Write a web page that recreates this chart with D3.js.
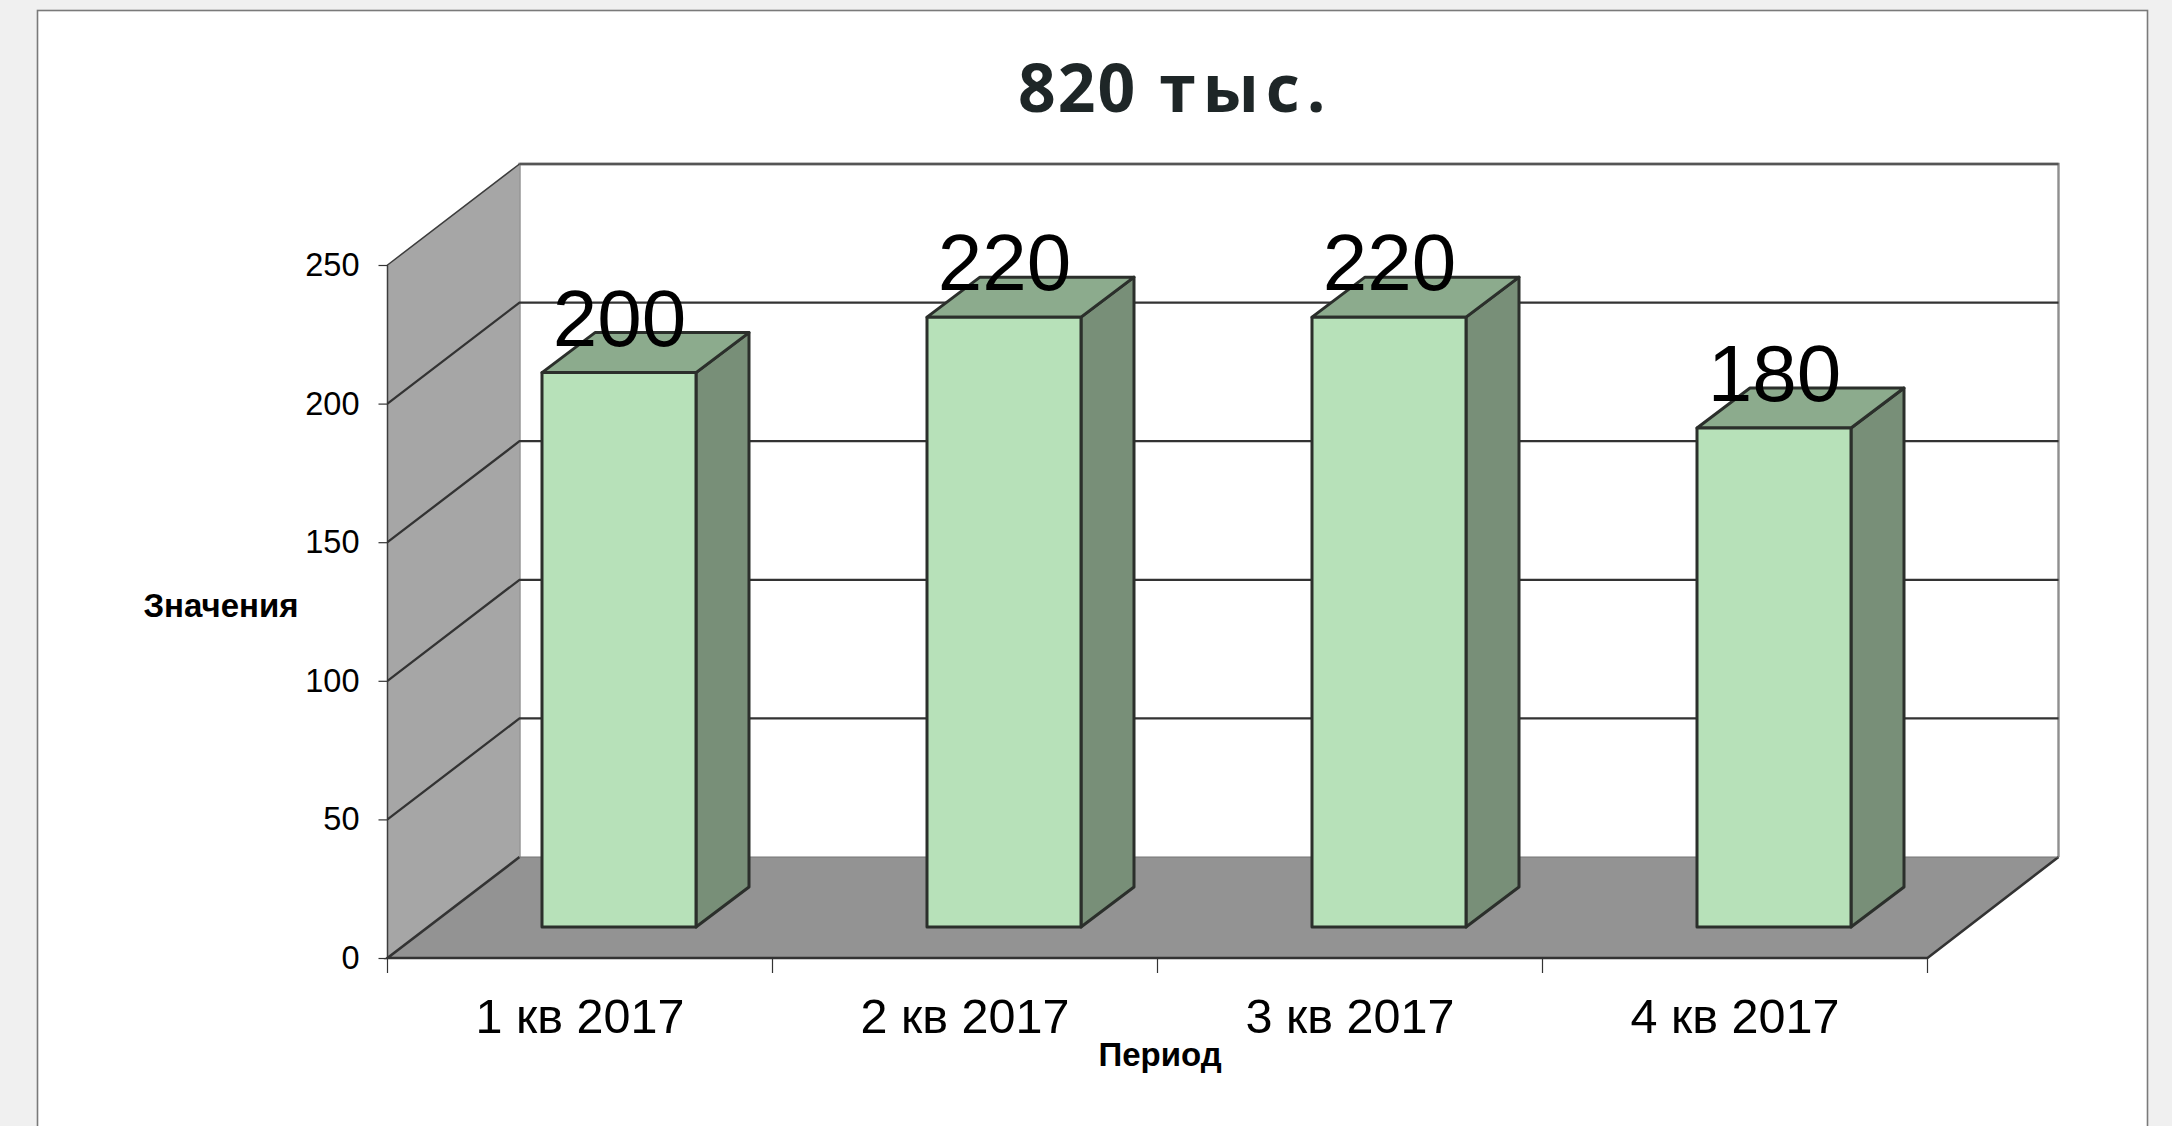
<!DOCTYPE html>
<html><head><meta charset="utf-8">
<script src="https://cdn.jsdelivr.net/npm/d3@7"></script>
<style>html,body{margin:0;padding:0;background:#f0f0f0;overflow:hidden}svg{display:block}</style>
</head><body><svg id="c" width="2172" height="1126"></svg>
<script>
const categories = ["1 кв 2017","2 кв 2017","3 кв 2017","4 кв 2017"];
const values = [200,220,220,180];
const yTicks = [0,50,100,150,200,250];
const titleNumber = "820";
const titleUnit = "тыс.";
const yTitle = "Значения";
const xTitle = "Период";

const svg = d3.select("#c");
const FF = "'Liberation Sans',Arial,sans-serif";
const x = d3.scaleBand().domain(categories).range([387.5,1927.5]);
const y = d3.scaleLinear().domain([0,250]).range([958,265]);
const depth = {dx:132, dy:101};
const bar = {off:155, w:154, dx:53, dy:40, lift:31};
const line = d3.line();
const C = {edge:"#2b2f2b", wall:"#a6a6a6", floor:"#939393", front:"#b7e1b9", top:"#8cab8d", side:"#788f78"};

// panel
svg.append("rect").attr("x",37.5).attr("y",10.5).attr("width",2110).attr("height",1130)
  .attr("fill","#fff").attr("stroke","#7a7a7a").attr("stroke-width",1.6);

const x0=x.range()[0], x1=x.range()[1], y0=y(0), yT=y(250);
// back wall outline
svg.append("path").attr("d",line([[x0+depth.dx,y0-depth.dy],[x0+depth.dx,yT-depth.dy],[x1+depth.dx-1,yT-depth.dy],[x1+depth.dx-1,y0-depth.dy]]))
  .attr("fill","none").attr("stroke","#8f8f8f").attr("stroke-width",2.4);
// left wall
svg.append("path").attr("d",line([[x0,y0],[x0,yT],[x0+depth.dx,yT-depth.dy],[x0+depth.dx,y0-depth.dy]])+"Z").attr("fill",C.wall);
svg.append("path").attr("d",line([[x0,y0],[x0,yT],[x0+depth.dx,yT-depth.dy]])).attr("fill","none").attr("stroke","#3d3d3d").attr("stroke-width",1.5);
// floor
svg.append("path").attr("d",line([[x0,y0],[x0+depth.dx,y0-depth.dy],[x1+depth.dx-1,y0-depth.dy],[x1,y0]])+"Z").attr("fill",C.floor);
svg.append("path").attr("d",line([[x0+depth.dx,y0-depth.dy],[x0,y0],[x1,y0],[x1+depth.dx-1,y0-depth.dy]])).attr("fill","none").attr("stroke","#333").attr("stroke-width",2.6);
svg.append("path").attr("d",line([[x0+depth.dx,y0-depth.dy],[x1+depth.dx-1,y0-depth.dy]])).attr("stroke","#777").attr("stroke-width",1.2);

// gridlines
yTicks.slice(1).forEach(v=>{
  const top = v===250;
  if(!top) svg.append("path").attr("d",line([[x0,y(v)],[x0+depth.dx,y(v)-depth.dy],[x1+depth.dx-1,y(v)-depth.dy]]))
    .attr("fill","none").attr("stroke","#333").attr("stroke-width",2.3);
  else svg.append("path").attr("d",line([[x0+depth.dx,y(v)-depth.dy],[x1+depth.dx-1,y(v)-depth.dy]]))
    .attr("fill","none").attr("stroke","#555").attr("stroke-width",2.6);
});

// y axis
const ay = svg.append("g").attr("transform",`translate(${x0},0)`)
  .call(d3.axisLeft(y).tickValues(yTicks).tickSize(9).tickPadding(19).tickSizeOuter(0));
ay.select(".domain").remove();
ay.selectAll("line").attr("stroke","#333").attr("stroke-width",1.2);
ay.selectAll("text").attr("font-family",FF).attr("font-size",32.5).attr("fill","#000");

// x axis labels and ticks at the band edges
const ax = svg.append("g").attr("transform",`translate(0,${y0})`)
  .call(d3.axisBottom(x).tickSize(0).tickPadding(0));
ax.select(".domain").remove();
ax.selectAll("text").attr("font-family",FF).attr("font-size",48.5).attr("fill","#000").attr("dy",null).attr("y",74.5);
svg.append("g").selectAll("line").data([...categories.map(c=>x(c)),x1]).join("line")
  .attr("x1",d=>d).attr("x2",d=>d).attr("y1",y0).attr("y2",y0+15)
  .attr("stroke","#333").attr("stroke-width",1.2);

// bars
const g = svg.append("g").selectAll("g").data(categories.map((c,i)=>({c,v:values[i]}))).join("g");
g.each(function(d){
  const s=d3.select(this), l=x(d.c)+bar.off-0.5, r=l+bar.w, b=y0-bar.lift, t=y(d.v)-bar.lift;
  const st=p=>p.attr("stroke",C.edge).attr("stroke-width",3).attr("stroke-linejoin","round");
  s.append("path").attr("d",line([[r,t],[r+bar.dx,t-bar.dy],[r+bar.dx,b-bar.dy],[r,b]])+"Z").attr("fill",C.side).call(st);
  s.append("path").attr("d",line([[l,t],[l+bar.dx,t-bar.dy],[r+bar.dx,t-bar.dy],[r,t]])+"Z").attr("fill",C.top).call(st);
  s.append("rect").attr("x",l).attr("y",t).attr("width",bar.w).attr("height",b-t).attr("fill",C.front).call(st);
});
// value labels
svg.append("g").selectAll("text").data(categories.map((c,i)=>({c,v:values[i]}))).join("text")
  .attr("x",d=>x(d.c)+bar.off+bar.w/2).attr("y",d=>y(d.v)-bar.lift-27)
  .attr("text-anchor","middle").attr("font-family",FF).attr("font-size",80).attr("fill","#000").text(d=>d.v);

// titles
const tt = svg.append("text").attr("x",1018).attr("y",112)
  .attr("font-family","'Open Sans',sans-serif").attr("font-weight",700).attr("font-size",66)
  .attr("fill","#1e2627");
tt.append("tspan").attr("letter-spacing",2).text(titleNumber);
tt.append("tspan").attr("dx",22).attr("letter-spacing",7).text(titleUnit);
svg.append("text").attr("x",221).attr("y",617).attr("text-anchor","middle").attr("font-family",FF)
  .attr("font-weight",700).attr("font-size",33).attr("fill","#000").text(yTitle);
svg.append("text").attr("x",1160).attr("y",1066).attr("text-anchor","middle").attr("font-family",FF)
  .attr("font-weight",700).attr("font-size",33).attr("fill","#000").text(xTitle);
</script></body></html>
